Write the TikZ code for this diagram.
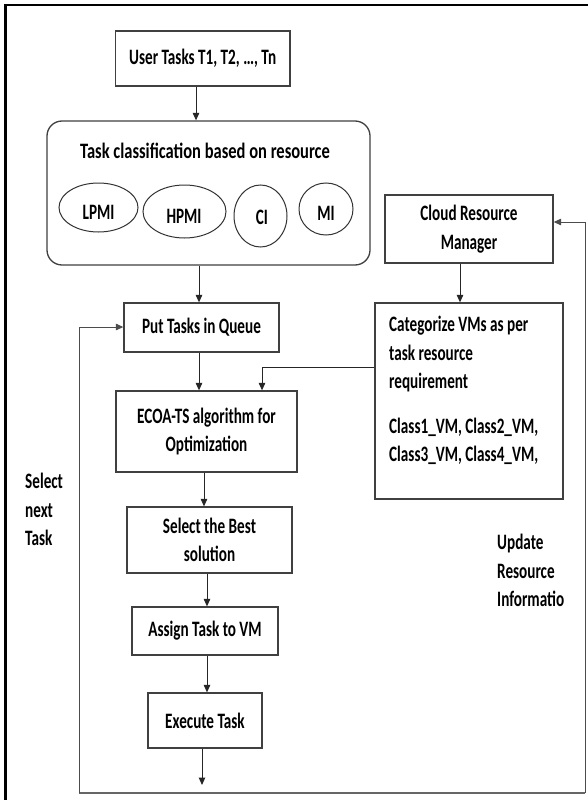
\documentclass[tikz,border=0pt]{standalone}
\usepackage{fontspec}
\setmainfont{Carlito}[FakeStretch=0.69]
\newfontfamily\titlefont{Carlito}[FakeStretch=0.75]
\usetikzlibrary{arrows.meta,shapes.geometric}
\newcommand{\fs}{\fontsize{22}{28.5}\selectfont\bfseries}
\tikzset{
  boxline/.style={draw=black!75, line width=1.3pt},
  box/.style={boxline, rectangle, inner sep=0pt, align=center, font=\fs},
  oval/.style={draw=black!80, line width=1pt, ellipse, inner sep=0pt, font=\fs},
  txt/.style={inner sep=0pt, font=\fs},
  arr/.style={draw=black!85, line width=1pt, -{Triangle[length=7.5pt,width=6.5pt]}},
  loopline/.style={draw=black!60, line width=1.2pt},
}
\begin{document}
\begin{tikzpicture}[x=1pt,y=-1pt]
\useasboundingbox (0,0) rectangle (588,800);
\fill[white] (0,0) rectangle (588,800);
% outer frame (cut off at right and bottom)
\draw[line width=2.2pt] (5.5,810) -- (5.5,5) -- (600,5);

% left column
\node[box, minimum width=174.5pt, minimum height=55pt] (ut) at (202.75,58.5) {User Tasks T1, T2, \ldots, Tn};
\node[boxline, rectangle, rounded corners=15pt, minimum width=323pt, minimum height=144pt] (cls) at (208.5,193) {};
\node[txt, font=\titlefont\fs] (clst) at (205,151) {Task classification based on resource};
\node[oval, minimum width=79pt, minimum height=49pt] (lpmi) at (98.5,207.5) {};
\node[txt] (lpmit) at (98.5,212) {LPMI};
\node[oval, minimum width=83pt, minimum height=53pt] (hpmi) at (184.5,211.5) {};
\node[txt] (hpmit) at (184,216) {HPMI};
\node[oval, minimum width=53pt, minimum height=62pt] (ci) at (260.5,216) {};
\node[txt] (cit) at (262,217) {CI};
\node[oval, minimum width=54pt, minimum height=52pt] (mi) at (326,209) {};
\node[txt] (mit) at (326,213) {MI};

\node[box, minimum width=155pt, minimum height=49pt] (q) at (201.5,327.5) {Put Tasks in Queue};
\node[box, minimum width=181pt, minimum height=81pt] (ecoa) at (206.5,431.5) {ECOA-TS algorithm for\\Optimization};
\node[box, minimum width=165pt, minimum height=66pt] (sel) at (209.5,540) {Select the Best\\solution};
\node[box, minimum width=146pt, minimum height=48pt] (asg) at (205,631) {Assign Task to VM};
\node[box, minimum width=114pt, minimum height=55pt] (exe) at (205,720.5) {Execute Task};
\coordinate (exeend) at (202,785);

% right column
\node[box, minimum width=168pt, minimum height=68pt] (crm) at (469,229) {Cloud Resource\\Manager};
\node[boxline, rectangle, minimum width=188pt, minimum height=196pt] (cat) at (469,401) {};
\node[txt, align=left, anchor=north west] (catt) at (389,316) {Categorize VMs as per\\task resource\\requirement\\[16pt]Class1\_VM, Class2\_VM,\\Class3\_VM, Class4\_VM,};

% side labels
\node[txt, align=left, anchor=north west] (selnext) at (25,473) {Select\\next\\Task};
\node[txt, align=left, anchor=north west] (upd) at (497,534) {Update\\Resource\\Informatio};

% connectors
\draw[arr] ([xshift=-6.75pt]ut.south) -- ([xshift=-12.5pt]cls.north);
\draw[arr] ([xshift=-9.5pt]cls.south) -- ([xshift=-2.5pt]q.north);
\draw[arr] ([xshift=-2.5pt]q.south) -- ([xshift=-7.5pt]ecoa.north);
\draw[arr] ([xshift=-2.5pt]ecoa.south) -- ([xshift=-5.5pt]sel.north);
\draw[arr] ([xshift=-2.5pt]sel.south) -- ([xshift=2pt]asg.north);
\draw[arr] ([xshift=2pt]asg.south) -- ([xshift=2pt]exe.north);
\draw[arr] ([xshift=-3pt]exe.south) -- (exeend);
\draw[arr] ([xshift=-9pt]crm.south) -- ([xshift=-9pt]cat.north);
\draw[arr] ([yshift=34pt]cat.west) -| ([xshift=55.5pt]ecoa.north);

% feedback loop
\coordinate (bl) at (79,793);
\coordinate (br) at (585,793);
\draw[loopline] (bl) -- (br);
\draw[arr, draw=black!70] (bl) |- ([yshift=0.5pt]q.west);
\draw[arr, draw=black!70] (br) |- ([yshift=7pt]crm.east);
\end{tikzpicture}
\end{document}
